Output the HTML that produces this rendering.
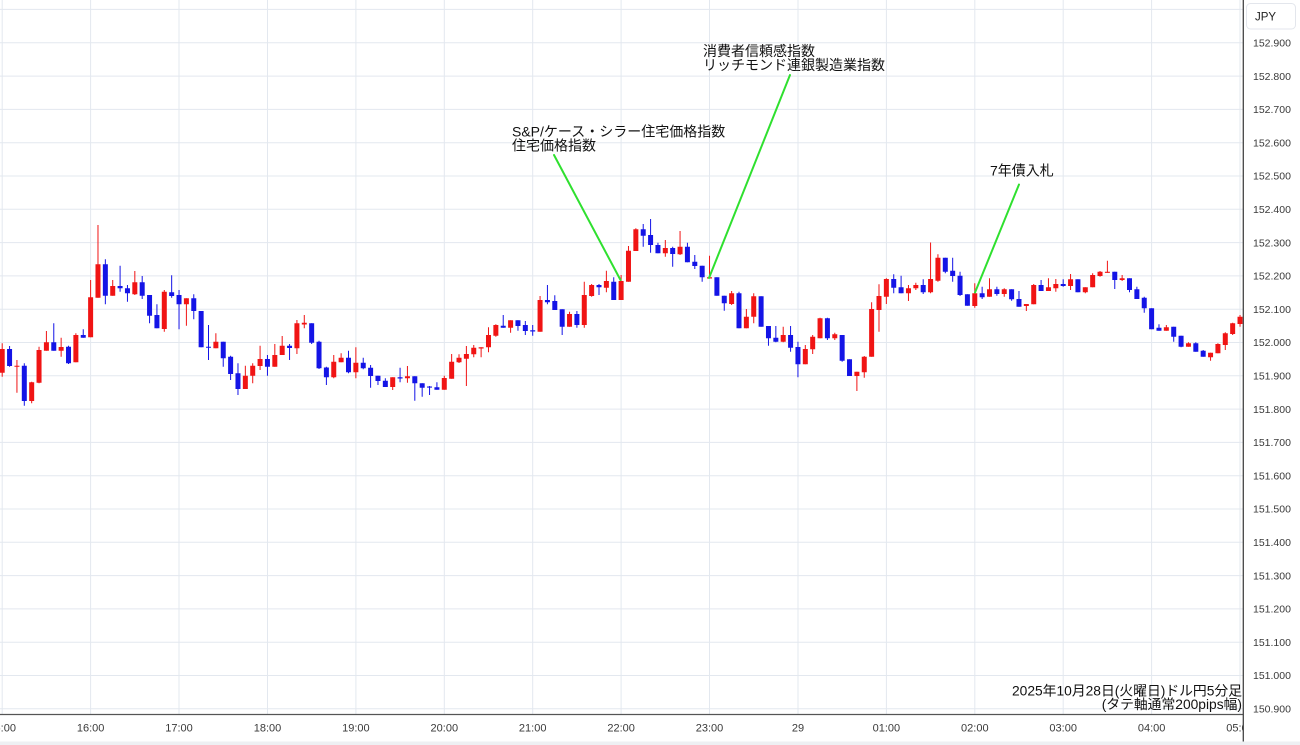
<!DOCTYPE html>
<html><head><meta charset="utf-8"><style>
html,body{margin:0;padding:0;background:#fff;width:1300px;height:745px;overflow:hidden}
svg{display:block}
.t{font-family:"Liberation Sans","Noto Sans CJK JP",sans-serif}
</style></head><body>
<svg width="1300" height="745" viewBox="0 0 1300 745" xmlns="http://www.w3.org/2000/svg">
<defs><clipPath id="pc"><rect x="0" y="0" width="1243" height="714"/></clipPath>
<clipPath id="tc"><rect x="0" y="714" width="1243" height="31"/></clipPath></defs>
<rect x="0" y="0" width="1300" height="745" fill="#fff"/>
<g stroke="#e3e8ef" stroke-width="1" fill="none">
<path d="M0 9.4H1243M0 42.8H1243M0 76.1H1243M0 109.4H1243M0 142.7H1243M0 176H1243M0 209.3H1243M0 242.6H1243M0 275.9H1243M0 309.2H1243M0 342.5H1243M0 375.8H1243M0 409.1H1243M0 442.4H1243M0 475.7H1243M0 509H1243M0 542.3H1243M0 575.6H1243M0 608.9H1243M0 642.2H1243M0 675.5H1243M0 708.8H1243"/>
<path d="M2.2 0V714M90.6 0V714M179 0V714M267.5 0V714M355.9 0V714M444.3 0V714M532.7 0V714M621.1 0V714M709.5 0V714M798 0V714M886.4 0V714M974.8 0V714M1063.2 0V714M1151.6 0V714M1240 0V714"/>
</g>
<g clip-path="url(#pc)">
<g transform="translate(2.2 0) scale(7.368 1)" fill="none" stroke-linecap="butt">
<path vector-effect="non-scaling-stroke" stroke="#f01414" stroke-width="1" d="M0 343.3V376.7M2 360V392.7M4 381.7V403.3M5 346.7V383.3M6 331V350.7M8 337.7V356.7M10 333.3V362.3M12 280V337.3M13 225V297.7M15 280V295.7M18 271V295M22 290V331.7M25 298.3V325.7M29 333.3V348.3M33 365.7V389M34 363.3V383.3M35 345.7V370M37 344V366.7M38 336V355M40 320V354M41 315V328.3M45 355V378.3M46 353.3V362.3M48 347.3V378.3M53 377.3V390M55 366V382.7M60 375.7V389.7M61 354V378.7M62 354.3V363M63 346V386M64 345V357.3M65 347.3V357.3M66 327.3V352.3M67 324.3V336.7M69 320.3V332.7M73 296V331.7M77 311.7V326.7M79 281.7V327.7M80 284V296.7M82 270.7V292.3M84 275V300M85 246V281.7M86 228.3V251M90 240V256.7M92 231V255M96 255.7V278.3M99 291V305M101 309V328.3M102 293.3V323.3M106 326.7V342.3M109 345V364.3M110 335V354M111 317.7V338.3M113 332.7V340M116 371.7V391M117 356V377.7M118 302.3V356.7M119 284.3V331.7M120 278.3V304M123 285V301M124 282.7V290M126 242.5V293.3M127 254.3V281.7M132 283.3V307.7M134 278.3V296.7M136 288.3V296.7M139 304V311M140 284V304.3M142 278.3V291M143 279V291.7M145 274V290M147 287.3V293.3M148 273.3V287.3M149 271V276.7M150 260.7V272.7M152 275V281M158 325V330.7M161 342.3V346.7M164 352.7V360.7M165 343.3V353.3M166 332.3V350M167 322.7V335M168 315V326.7"/>
<path vector-effect="non-scaling-stroke" stroke="#f01414" stroke-width="5" d="M0 349V372.7M2 365.7V366.7M4 382.3V401M5 350V382.7M6 342.3V350.7M8 347V350.7M10 335V362.3M12 297.3V337.3M13 264.3V297.7M15 286V295.7M18 282.3V294.3M22 291.7V329M25 298.3V304.3M29 341.7V348.3M33 375.7V389M34 365.7V375.7M35 359V366M37 355V366.7M38 345.7V355M40 323.3V348.3M41 322.7V324.5M45 361.7V377.3M46 357.7V362.3M48 362.7V372.3M53 377.3V387M55 376.3V378.3M60 378V389.7M61 361.7V378.7M62 357.7V362.3M63 354V358.7M64 347.7V354.3M65 347.3V348.5M66 335V347.3M67 325V335.7M69 320.3V327.7M73 300V331.7M77 314V326.7M79 295V325M80 285V296M82 281V287.7M84 281V300M85 250.7V281.7M86 229.3V251M90 248V253.3M92 246.7V254.3M96 277.3V278.5M99 293.3V304M101 316.7V328.3M102 296.3V316.7M106 335V341.7M109 349V364.3M110 336.7V349.3M111 318.3V338.3M113 334.3V338.3M116 371.7V376M117 356.7V372.3M118 309V356.7M119 296V310M120 279V296.7M123 288.3V293.3M124 285V288.3M126 279V292.3M127 257.7V280.7M132 293.3V306M134 289.3V296.7M136 289.3V294M139 304V306M140 285V304.3M142 287.3V291M143 284V288.3M145 279.3V286M147 287.3V292.3M148 275V287.3M149 271.7V276M150 271.7V272.9M152 278.3V280M158 327.3V330.7M161 343.3V346.7M164 352.7V357.3M165 344V353.3M166 333.3V345M167 323.3V334M168 316.7V324"/>
<path vector-effect="non-scaling-stroke" stroke="#1414e6" stroke-width="1" d="M1 346V366.7M3 363.3V405.7M7 323.3V350.7M9 345.7V364M11 329.3V337.7M14 259.3V304.3M16 265.7V291.7M17 285V301.7M19 276V299M20 295V323.3M21 304.3V328.3M23 275.3V297.7M24 290V329.3M26 294.3V319.3M27 311V347.3M28 325V360M30 341.7V366.7M31 355.7V380M32 363.3V395M36 355V375.7M39 344V360M42 323.3V344M43 340.7V369M44 366.7V385M47 350.7V373.3M49 357.7V369.3M50 365V387.7M51 375.7V385M52 378.3V387M54 367.7V382.3M56 376.3V400.7M57 383.3V396.7M58 386V395M59 382.3V389.7M68 315V327.7M70 320.3V330.7M71 321V335M72 325V335.7M74 285V304.3M75 295.3V310M76 309.3V335M78 311V327.7M81 284V295M83 277.3V300M87 224V246.7M88 219V252.7M89 242.7V253.3M91 246.7V266.7M93 242.7V262.3M94 255V269M95 265.7V281.7M97 277.3V295.7M98 295.7V310.7M100 291.7V328.3M103 296.3V326.7M104 326V345.7M105 326V342.3M107 326V351.7M108 341.7V377.3M112 317.7V340M114 335V361.7M115 359.3V376M121 274.3V293.3M122 275.7V293.3M125 279.3V294M128 257.7V273.3M129 257.7V281.7M130 271.7V296M131 294.3V305.7M133 286.7V299M135 286.7V295.7M137 289.3V300.7M138 291V306.7M141 280V291M144 279.3V286.7M146 279.3V292.3M151 271.7V289M153 278.3V292.3M154 286.7V299M155 296.7V312.7M156 308.3V329.3M157 324.3V330.7M159 326.7V341.7M160 335.7V347.3M162 342.3V351.7M163 350V356.7"/>
<path vector-effect="non-scaling-stroke" stroke="#1414e6" stroke-width="5" d="M1 349V366M3 365.7V401M7 342.3V350.7M9 346.7V363.3M11 335V337.7M14 264.3V295.7M16 286V288.3M17 288.3V293.3M19 282.3V295.7M20 295V315.7M21 315V328.3M23 292.3V296M24 295V304.3M26 298.3V311M27 311V347.3M28 346.7V347.8M30 341.7V358.3M31 356.7V374M32 373.3V389M36 359V366.7M39 345.7V348M42 323.3V342.7M43 341.7V368.3M44 367.5V377.3M47 357.7V372.3M49 362.7V368.3M50 367.7V376M51 375.7V381M52 380.7V387M54 377.3V378.5M56 376.3V383.3M57 383.3V387.7M58 386.5V387.6M59 387.3V389.7M68 325.7V327.7M70 320.3V326M71 325V331M72 330.3V331.5M74 300V302.3M75 301V310M76 309.3V326.7M78 314V325M81 285V287.3M83 281.7V300M87 229.3V235.7M88 235V245M89 245V253.3M91 248V254M93 246.7V262.3M94 261.7V266M95 265.7V277.3M97 277.3V295.7M98 295.7V303.3M100 293.3V328.3M103 296.3V326.7M104 326V338.3M105 337.7V341.7M107 335V347.7M108 347V364.3M112 318.3V338.3M114 335V360.7M115 359.3V376M121 279V287.7M122 287.3V293.3M125 285V292.3M128 257.7V271.7M129 270.7V276M130 275.7V295M131 294.3V305.7M133 293.3V297.3M135 289.3V294M137 289.3V299.3M138 299V306.7M141 285V291M144 284V286M146 279.3V292.3M151 271.7V280M153 278.3V290M154 289.3V299M155 297.7V308.3M156 308.3V329.3M157 327.7V330.7M159 326.7V336.7M160 335.7V346.7M162 343.3V351.7M163 350.7V356.7"/>
</g>
<g stroke="#2fe02f" stroke-width="2" fill="none" stroke-linecap="round">
<path d="M554 155L620.5 280"/>
<path d="M790 75L709 278"/>
<path d="M1019 184.5L975 292.5"/>
</g>
</g>
<g class="t" font-size="14" fill="#111">
<text x="512" y="136.5">S&amp;P/ケース・シラー住宅価格指数</text>
<text x="512" y="150.5">住宅価格指数</text>
<text x="703" y="56">消費者信頼感指数</text>
<text x="703" y="70">リッチモンド連銀製造業指数</text>
<text x="990" y="175.5">7年債入札</text>
</g>
<g class="t" font-size="13.8" fill="#111" text-anchor="end">
<text x="1242" y="695.5">2025年10月28日(火曜日)ドル円5分足</text>
<text x="1242" y="709">(タテ軸通常200pips幅)</text>
</g>
<path d="M0 714.5H1243" stroke="#555" stroke-width="1.3"/>
<path d="M1243.3 0V742" stroke="#444" stroke-width="1.3"/>
<rect x="0" y="741.5" width="1300" height="3.5" fill="#eef0f3"/>
<g class="t" font-size="11" fill="#3a3a3a" text-anchor="middle" clip-path="url(#tc)">
<text x="2.2" y="731.7">15:00</text>
<text x="90.6" y="731.7">16:00</text>
<text x="179" y="731.7">17:00</text>
<text x="267.5" y="731.7">18:00</text>
<text x="355.9" y="731.7">19:00</text>
<text x="444.3" y="731.7">20:00</text>
<text x="532.7" y="731.7">21:00</text>
<text x="621.1" y="731.7">22:00</text>
<text x="709.5" y="731.7">23:00</text>
<text x="798" y="731.7">29</text>
<text x="886.4" y="731.7">01:00</text>
<text x="974.8" y="731.7">02:00</text>
<text x="1063.2" y="731.7">03:00</text>
<text x="1151.6" y="731.7">04:00</text>
<text x="1240" y="731.7">05:00</text>
</g>
<g class="t" font-size="10.5" fill="#3a3a3a">
<text x="1253" y="46.5">152.900</text>
<text x="1253" y="79.8">152.800</text>
<text x="1253" y="113.1">152.700</text>
<text x="1253" y="146.4">152.600</text>
<text x="1253" y="179.7">152.500</text>
<text x="1253" y="213">152.400</text>
<text x="1253" y="246.3">152.300</text>
<text x="1253" y="279.6">152.200</text>
<text x="1253" y="312.9">152.100</text>
<text x="1253" y="346.2">152.000</text>
<text x="1253" y="379.5">151.900</text>
<text x="1253" y="412.8">151.800</text>
<text x="1253" y="446.1">151.700</text>
<text x="1253" y="479.4">151.600</text>
<text x="1253" y="512.7">151.500</text>
<text x="1253" y="546">151.400</text>
<text x="1253" y="579.3">151.300</text>
<text x="1253" y="612.6">151.200</text>
<text x="1253" y="645.9">151.100</text>
<text x="1253" y="679.2">151.000</text>
<text x="1253" y="712.5">150.900</text>
</g>
<rect x="1246.5" y="3.5" width="49" height="25.5" rx="4" fill="#fff" stroke="#e3e6ec"/>
<text class="t" x="1265.5" y="20.5" font-size="11.5" fill="#222" text-anchor="middle">JPY</text>
</svg>
</body></html>
